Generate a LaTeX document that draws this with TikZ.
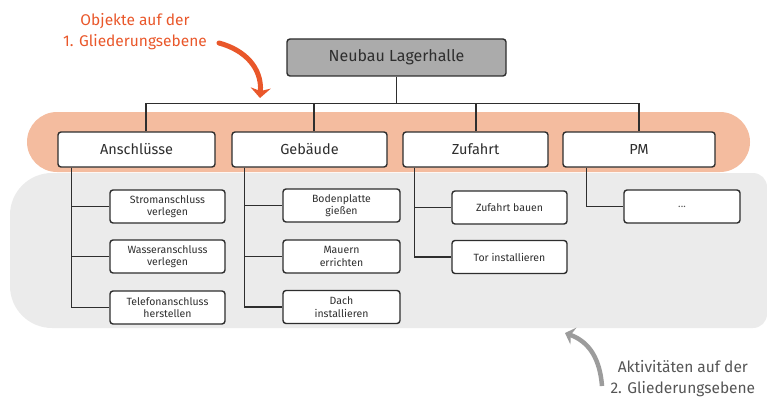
\documentclass[tikz,border=0pt]{standalone}
\usepackage{fontspec}
\setmainfont{Fira Sans}
\usetikzlibrary{arrows.meta}
\definecolor{ink}{HTML}{2E2E2E}
\definecolor{bandorange}{HTML}{F4BC9F}
\definecolor{bandgray}{HTML}{EBEBEB}
\definecolor{topfill}{HTML}{ABABAB}
\definecolor{noteorange}{HTML}{E9572A}
\definecolor{notegray}{HTML}{555555}
\definecolor{arrowgray}{HTML}{9C9C9C}
\tikzset{
  box/.style={draw=ink, line width=1.4pt, rounded corners=3pt, fill=white,
    inner sep=0pt, align=center, text=ink, minimum height=#1},
  box/.default=35pt,
  lvlone/.style={box=35pt, font=\fontsize{14.5}{16}\selectfont},
  lvltwo/.style={box=33pt, font=\fontsize{10.5}{12.5}\selectfont},
  link/.style={draw=ink, line width=1.2pt},
  note/.style={align=center, font=\fontsize{15.5}{21}\selectfont},
}
\begin{document}
\begin{tikzpicture}[x=1pt, y=-1pt]
\useasboundingbox (0,0) rectangle (767,401);

% background bands for the two levels
\fill[bandgray] (10,250) [rounded corners=42pt] -- (10,173) [rounded corners=14pt] -- (767,173) -- (767,328) [rounded corners=42pt] -- (10,328) [sharp corners] -- cycle;
\fill[bandorange, rounded corners=30pt] (27,112) rectangle (750,172);

% root
\node[box=37pt, fill=topfill, minimum width=219pt, font=\fontsize{16}{18}\selectfont] (top) at (396.5,57.5) {Neubau Lagerhalle};

% first level
\node[lvlone, minimum width=157pt] (a1) at (136.5,149.5) {Anschlüsse};
\node[lvlone, minimum width=155pt] (b1) at (309.5,149.5) {Gebäude};
\node[lvlone, minimum width=145pt] (c1) at (475.5,149.5) {Zufahrt};
\node[lvlone, minimum width=152pt] (p1) at (639,149.5) {PM};

% second level
\node[lvltwo, minimum width=115pt] (a21) at (167.5,206.5) {Stromanschluss\\verlegen};
\node[lvltwo, minimum width=115pt] (a22) at (167.5,256.5) {Wasseranschluss\\verlegen};
\node[lvltwo, minimum width=115pt] (a23) at (167.5,307.5) {Telefonanschluss\\herstellen};
\node[lvltwo, minimum width=117pt] (b21) at (341.5,205.5) {Bodenplatte\\gießen};
\node[lvltwo, minimum width=117pt] (b22) at (341.5,256.5) {Mauern\\errichten};
\node[lvltwo, minimum width=117pt] (b23) at (341.5,307) {Dach\\installieren};
\node[lvltwo, minimum width=115pt] (c21) at (509.5,207.5) {Zufahrt bauen};
\node[lvltwo, minimum width=115pt] (c22) at (509.5,257) {Tor installieren};
\node[lvltwo, minimum width=116pt] (p21) at (682,206.5) {\textcolor{notegray}{...}};

% root to first level
\coordinate (hub) at (top.south |- 0,103.5);
\draw[link] (top.south) -- (hub);
\draw[link] ([xshift=9.5pt]a1.north) |- (hub) -| ([xshift=0pt]p1.north);
\draw[link] ([xshift=4.5pt]b1.north) -- ([xshift=4.5pt]b1.north |- hub);
\draw[link] ([xshift=0.5pt]c1.north) -- ([xshift=0.5pt]c1.north |- hub);

% first level to second level
\draw[link] ([xshift=14pt]a1.south west) |- (a23.west);
\draw[link] ([xshift=14pt]a1.south west) |- (a21.west);
\draw[link] ([xshift=14pt]a1.south west) |- (a22.west);
\draw[link] ([xshift=13pt]b1.south west) |- (b23.west);
\draw[link] ([xshift=13pt]b1.south west) |- (b21.west);
\draw[link] ([xshift=13pt]b1.south west) |- (b22.west);
\draw[link] ([xshift=12pt]c1.south west) |- (c22.west);
\draw[link] ([xshift=12pt]c1.south west) |- (c21.west);
\draw[link] ([xshift=24pt]p1.south west) |- (p21.west);

% annotations
\node[note, text=noteorange] (n1) at (135,32) {Objekte auf der\\1. Gliederungsebene};
\coordinate (n1tail) at (219,43);
\coordinate (n1tip) at (260,98);
\draw[noteorange, line width=5pt, line cap=round, -{Stealth[length=10pt,width=20pt,inset=3pt]}]
  (n1tail) .. controls (245,50) and (262,68) .. (n1tip);

\node[note, text=notegray, anchor=west] (n2) at (607,379) {Aktivitäten auf der\\2. Gliederungsebene};
\coordinate (n2tail) at (602,386);
\coordinate (n2tip) at (565,333);
\draw[arrowgray, line width=4.5pt, -{Stealth[length=9pt,width=18pt,inset=3pt]}]
  (n2tail) .. controls (600,360) and (590,342) .. (n2tip);
\end{tikzpicture}
\end{document}
